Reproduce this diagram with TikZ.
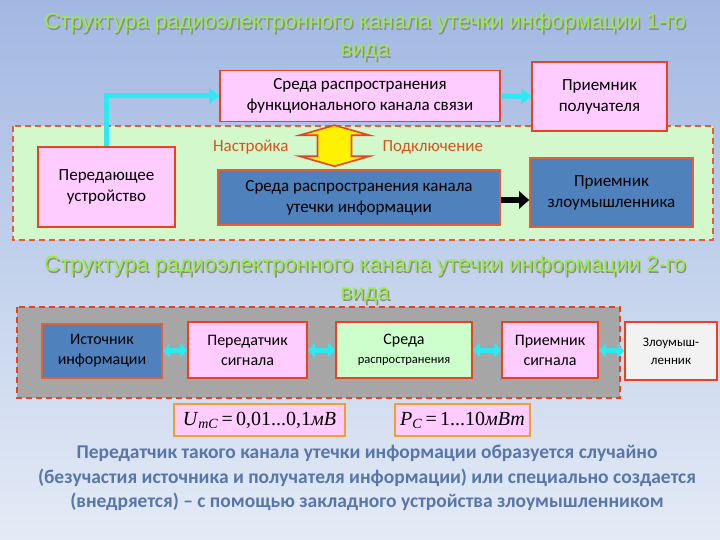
\documentclass[tikz,border=0pt]{standalone}
\usepackage{fontspec}
\setmainfont{Carlito}
\newfontfamily\titlefont{Liberation Sans}
\newfontfamily\formfont{Liberation Serif}
\usepackage{xcolor}
\usetikzlibrary{arrows.meta,positioning,calc,backgrounds}

\definecolor{bgtop}{HTML}{A2B8E2}
\definecolor{bgbot}{HTML}{E4EBF6}
\definecolor{pinkbox}{HTML}{FFCCFF}
\definecolor{redline}{HTML}{E8431F}
\definecolor{dashline}{HTML}{E0603A}
\definecolor{zonegreen}{HTML}{D2F8CC}
\definecolor{bluebox}{HTML}{4F81BD}
\definecolor{greenbox}{HTML}{CCFFCC}
\definecolor{greybox}{HTML}{F2F2F2}
\definecolor{zonegrey}{HTML}{A6A6A6}
\definecolor{arrcyan}{HTML}{2EE8F2}
\definecolor{titlegreen}{HTML}{9AEA4A}
\definecolor{notetext}{HTML}{5876A8}
\definecolor{labred}{HTML}{D9531E}
\definecolor{formorange}{HTML}{F0A030}

\tikzset{
  block/.style={draw=redline, line width=1.6pt, align=center, inner sep=0pt, font=\fontsize{17}{21}\selectfont},
  pinkblock/.style={block, fill=pinkbox},
  blueblock/.style={block, fill=bluebox, draw=dashline},
  rowblock/.style={font=\fontsize{16}{20}\selectfont},
  zone/.style={draw=dashline, line width=1.6pt, dash pattern=on 6pt off 4pt},
  cyanarrow/.style={draw=arrcyan, line width=5pt, -{Triangle[length=10pt,width=16pt]}},
  smallarrow/.style={draw=arrcyan, line width=5pt, {Triangle[length=7pt,width=14pt]}-{Triangle[length=7pt,width=14pt]}},
  title/.style={font=\titlefont\fontsize{22}{28}\selectfont, text=titlegreen, align=center},
  shadowtitle/.style={font=\titlefont\fontsize{22}{28}\selectfont, text=black!45, align=center},
  formbox/.style={draw=formorange, line width=1.6pt, fill=pinkbox, minimum height=32, font=\formfont\fontsize{20}{22}\selectfont},
}

\begin{document}
\begin{tikzpicture}[x=1pt,y=-1pt]
% Background
\shade[top color=bgtop, bottom color=bgbot] (0,0) rectangle (720,540);
\useasboundingbox (0,0) rectangle (720,540);

% Title 1
\node[shadowtitle] at (366.5,38.5) {Структура радиоэлектронного канала утечки информации 1-го\\вида};
\node[title] (title1) at (365,37) {Структура радиоэлектронного канала утечки информации 1-го\\вида};

% Zone of the leakage channel
\filldraw[zone, fill=zonegreen] (13,126) rectangle (713,240);

% Upper row
\node[pinkblock, minimum width=280, minimum height=51] (sreda) at (360,96) {Среда распространения\\функционального канала связи};
\node[pinkblock, minimum width=135, minimum height=69] (polych) at (599.5,96.5) {Приемник\\получателя};

% Lower row
\node[pinkblock, minimum width=137, minimum height=80] (peredatch) at (106.5,187) {Передающее\\устройство};
\node[blueblock, minimum width=282, minimum height=55] (sredaut) at (359,197.5) {Среда распространения канала\\утечки информации};
\node[blueblock, minimum width=163, minimum height=69] (priemzl) at (611.5,192.5) {Приемник\\злоумышленника};

% Labels
\node[text=labred, font=\fontsize{17}{20}\selectfont, anchor=east] (nastr) at (292,147) {Настройка};
\node[text=labred, font=\fontsize{17}{20}\selectfont, anchor=west] (podkl) at (379,147) {Подключение};

% Arrows of the first scheme
\draw[cyanarrow] (peredatch.north) |- (sreda.west);
\draw[cyanarrow] (sreda.east) -- (polych.west);
\draw[line width=6pt, -{Triangle[length=10pt,width=17pt]}] (sredaut.east |- 0,200) -- (priemzl.west |- 0,200);
% yellow double arrow between the two media
\coordinate (svyaz) at ($(sreda.south)!0.5!(sredaut.north)+(-25,0)$);
\filldraw[draw=redline, line width=1.6pt, fill=yellow, line join=miter]
  ($(svyaz)+(0,-20.5)$) -- ++(35,10) -- ++(-18,0) -- ++(0,21) -- ++(18,0)
  -- ++(-35,10) -- ++(-35,-10) -- ++(18,0) -- ++(0,-21) -- ++(-18,0) -- cycle;

% Title 2
\node[shadowtitle] at (366.5,281.5) {Структура радиоэлектронного канала утечки информации 2-го\\вида};
\node[title] (title2) at (365,280) {Структура радиоэлектронного канала утечки информации 2-го\\вида};

% Second scheme
\filldraw[zone, fill=zonegrey, draw=redline] (17,307) rectangle (620,398);
\node[blueblock, rowblock, minimum width=120, minimum height=54] (istoch) at (102,351) {Источник\\информации};
\node[pinkblock, rowblock, minimum width=119, minimum height=56] (peredsig) at (247.5,350) {Передатчик\\сигнала};
\node[block, fill=greenbox, minimum width=136, minimum height=56, font=\fontsize{16}{19}\selectfont] (sreda2) at (404,350) {Среда\\{\fontsize{12.5}{16}\selectfont распространения}};
\node[pinkblock, rowblock, minimum width=96, minimum height=56] (priemsig) at (550,350) {Приемник\\сигнала};
\node[block, fill=greybox, minimum width=92, minimum height=58, font=\fontsize{13}{18}\selectfont] (zloum) at (671,351) {Злоумыш-\\ленник};

% Double arrows between blocks
\foreach \a/\b in {istoch/peredsig, peredsig/sreda2, sreda2/priemsig, priemsig/zloum}{
  \draw[smallarrow] (\a.east) -- (\b.west);
}

% Formulas
\node[formbox, minimum width=171] (umc) at (259.5,420)
  {\textit{U}\textsubscript{\itshape mC}\,=\,0,01...0,1\textit{мВ}};
\node[formbox, minimum width=135] (pc) at (462.5,420)
  {\textit{P}\textsubscript{\itshape C}\,=\,1...10\textit{мВт}};

% Note
\node[text=notetext, font=\bfseries\fontsize{19.5}{24.5}\selectfont, align=center] (note) at (367,478)
  {Передатчик такого канала утечки информации образуется случайно\\
   (безучастия источника и получателя информации) или специально создается\\
   (внедряется) – с помощью закладного устройства злоумышленником};
\end{tikzpicture}
\end{document}
